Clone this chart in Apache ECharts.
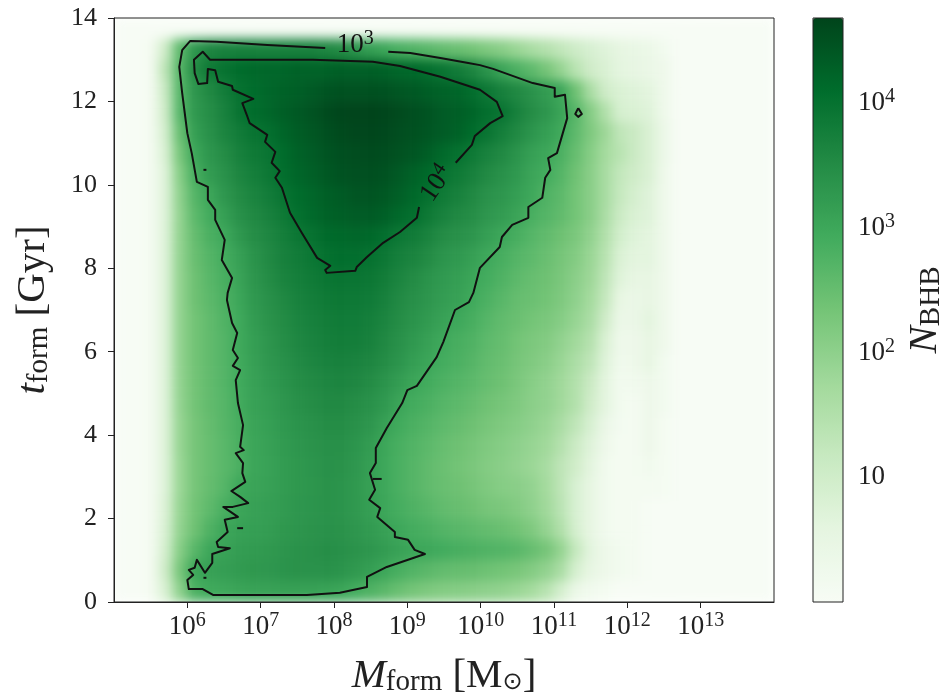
<!DOCTYPE html>
<html>
<head>
<meta charset="utf-8">
<style>html,body{margin:0;padding:0;background:#fff}#c{width:946px;height:698px}</style>
<script src="https://cdn.jsdelivr.net/npm/echarts@6/dist/echarts.min.js"></script>
</head>
<body>
<div id="c"></div>
<script>
// log10(M_form) bin centres of the table columns
const massBins = [5.5,5.7,5.9,6.1,6.3,6.5,6.7,6.9,7.1,7.3,7.5,7.7,7.9,8.1,8.3,8.5,8.7,8.9,9.1,9.3,9.5,9.7,9.9,10.1,10.3,10.5,10.7,10.9,11.1,11.3,11.5,11.7,11.9,12.1,12.3,12.5,12.7,12.9];
// empty bins left and right of the table
const massBinsLow = [5.1,5.3];
const massBinsHigh = [13.1,13.3,13.5,13.7,13.9];
// t_form bin centres, top row first
const timeBins = [13.75,13.25,12.75,12.25,11.75,11.25,10.75,10.25,9.75,9.25,8.75,8.25,7.75,7.25,6.75,6.25,5.75,5.25,4.75,4.25,3.75,3.25,2.75,2.25,1.75,1.25,0.75,0.25];
// log10 N_BHB, one row per time bin
const logN = [
[0,0,0,0,0,0,0,0,0,0,0,0,0,0,0,0,0,0,0,0,0,0,0,0,0,0,0,0,0,0,0,0,0,0,0,0,0,0],
[.1,1.0,2.6,3.3,3.6,3.7,3.7,3.7,3.7,3.7,3.7,3.7,3.6,3.5,3.35,3.15,3.0,2.85,2.75,2.65,2.55,2.45,2.35,2.2,2.05,1.85,1.65,1.45,1.25,1.05,.85,.7,.55,.45,.35,.2,0,0],
[.1,1.3,2.7,3.5,3.85,4.0,4.1,4.15,4.2,4.2,4.25,4.25,4.25,4.3,4.3,4.3,4.25,4.2,4.15,4.05,3.95,3.8,3.6,3.35,3.05,2.8,2.6,2.3,1.9,1.4,1.0,.8,.6,.5,.4,.3,0,0],
[.1,1.1,2.7,3.3,3.55,3.8,4.0,4.1,4.2,4.25,4.3,4.38,4.45,4.5,4.5,4.5,4.48,4.43,4.38,4.3,4.25,4.2,4.05,3.9,3.7,3.55,3.4,3.2,3.0,2.4,1.6,1.0,.8,.7,.6,.3,0,0],
[.1,1.0,2.7,3.25,3.45,3.7,3.95,4.1,4.2,4.3,4.38,4.48,4.58,4.65,4.68,4.68,4.65,4.6,4.52,4.45,4.35,4.3,4.2,4.05,3.95,3.7,3.5,3.3,3.05,2.7,2.1,1.5,.9,.8,.7,.3,0,0],
[.1,.9,2.5,3.15,3.4,3.65,3.8,3.95,4.05,4.2,4.33,4.43,4.52,4.6,4.65,4.65,4.62,4.55,4.5,4.42,4.35,4.25,4.1,3.95,3.75,3.55,3.35,3.15,2.95,2.6,2.2,1.8,1.3,1.1,.8,.4,0,0],
[.1,.8,2.3,3.0,3.3,3.5,3.7,3.85,3.95,4.1,4.25,4.35,4.45,4.52,4.57,4.58,4.55,4.5,4.42,4.3,4.15,4.0,3.85,3.7,3.55,3.35,3.15,3.0,2.8,2.5,2.1,1.7,1.4,1.1,.8,.4,0,0],
[.1,.7,2.1,2.85,3.2,3.4,3.6,3.75,3.9,4.05,4.2,4.3,4.4,4.48,4.52,4.52,4.48,4.38,4.25,4.12,4.0,3.85,3.7,3.55,3.4,3.25,3.05,2.9,2.7,2.4,2.05,1.65,1.25,1.0,.8,.3,0,0],
[.1,.7,2.0,2.7,3.0,3.3,3.5,3.65,3.8,3.95,4.1,4.2,4.3,4.35,4.45,4.45,4.4,4.3,4.15,4.0,3.85,3.7,3.55,3.4,3.3,3.15,3.0,2.75,2.6,2.35,2.05,1.65,1.2,.9,.7,.3,0,0],
[.1,.7,1.95,2.6,2.9,3.15,3.4,3.55,3.7,3.85,4.02,4.15,4.25,4.3,4.35,4.35,4.28,4.15,4.03,3.85,3.7,3.55,3.45,3.3,3.2,3.05,2.85,2.7,2.55,2.35,2.05,1.6,1.1,.8,.7,.3,0,0],
[.1,.7,1.95,2.5,2.8,2.98,3.25,3.45,3.6,3.75,3.9,4.0,4.12,4.15,4.2,4.15,4.03,3.9,3.8,3.65,3.5,3.4,3.3,3.15,3.0,2.85,2.7,2.55,2.4,2.25,1.95,1.5,.95,.7,.6,.3,0,0],
[.1,.7,1.95,2.45,2.7,2.9,3.1,3.35,3.55,3.7,3.8,3.92,4.02,4.08,4.08,4.0,3.88,3.75,3.65,3.5,3.35,3.25,3.12,2.98,2.85,2.7,2.6,2.45,2.3,2.15,1.85,1.4,.8,.6,.6,.3,0,0],
[.1,.7,1.95,2.4,2.65,2.85,3.05,3.3,3.5,3.65,3.75,3.85,3.92,3.95,3.95,3.9,3.78,3.65,3.5,3.35,3.25,3.15,3.02,2.9,2.75,2.6,2.5,2.4,2.25,2.05,1.8,1.3,.7,.5,.5,.3,0,0],
[.1,.7,1.95,2.4,2.6,2.8,3.0,3.25,3.42,3.55,3.68,3.78,3.85,3.88,3.88,3.82,3.7,3.55,3.42,3.3,3.2,3.1,2.95,2.8,2.65,2.5,2.45,2.35,2.2,2.0,1.7,1.2,.5,.4,.5,.3,0,0],
[.1,.7,1.95,2.35,2.55,2.75,2.95,3.2,3.38,3.5,3.62,3.72,3.78,3.82,3.82,3.75,3.62,3.5,3.35,3.22,3.1,2.98,2.85,2.7,2.55,2.45,2.35,2.25,2.1,1.9,1.6,1.0,.4,.4,.6,.3,0,0],
[.1,.7,1.95,2.35,2.55,2.72,2.95,3.15,3.32,3.45,3.58,3.68,3.75,3.78,3.78,3.7,3.55,3.42,3.25,3.1,2.98,2.85,2.75,2.6,2.5,2.35,2.25,2.15,1.95,1.75,1.45,.8,.3,.3,.5,.3,0,0],
[.1,.7,1.95,2.35,2.55,2.72,2.92,3.12,3.3,3.4,3.52,3.62,3.68,3.7,3.68,3.6,3.48,3.35,3.15,3.02,2.9,2.8,2.68,2.55,2.45,2.3,2.2,2.05,1.85,1.6,1.3,.7,.25,.3,.5,.2,0,0],
[.1,.7,1.95,2.35,2.55,2.72,2.92,3.1,3.25,3.35,3.48,3.55,3.6,3.62,3.6,3.5,3.35,3.2,3.02,2.9,2.8,2.7,2.6,2.5,2.4,2.25,2.1,1.95,1.75,1.5,1.1,.6,.2,.2,.3,.2,0,0],
[.1,.7,1.95,2.35,2.55,2.7,2.9,3.1,3.2,3.3,3.42,3.5,3.55,3.55,3.5,3.4,3.25,3.05,2.9,2.8,2.7,2.6,2.5,2.4,2.3,2.2,2.05,1.95,1.75,1.5,1.0,.6,.2,.1,.3,.2,0,0],
[.1,.7,1.9,2.3,2.5,2.68,2.85,3.05,3.15,3.25,3.35,3.42,3.48,3.48,3.42,3.3,3.1,2.95,2.8,2.7,2.6,2.5,2.4,2.3,2.2,2.1,2.0,1.85,1.6,1.3,.85,.4,.15,.1,.3,.1,0,0],
[.1,.7,1.9,2.3,2.48,2.65,2.82,3.02,3.12,3.22,3.3,3.38,3.42,3.42,3.35,3.2,3.0,2.85,2.72,2.6,2.5,2.4,2.3,2.2,2.1,2.0,1.9,1.75,1.45,1.1,.7,.3,.1,.1,.3,.1,0,0],
[.1,.7,1.85,2.3,2.48,2.65,2.8,3.02,3.1,3.2,3.28,3.35,3.4,3.38,3.3,3.15,2.98,2.82,2.68,2.55,2.45,2.35,2.25,2.15,2.05,1.95,1.85,1.65,1.3,1.0,.6,.2,.1,.1,.2,.1,0,0],
[.1,.7,1.85,2.3,2.5,2.7,2.98,3.05,3.12,3.2,3.28,3.33,3.38,3.35,3.28,3.12,2.98,2.82,2.68,2.55,2.48,2.4,2.3,2.2,2.1,2.05,1.95,1.7,1.3,.85,.5,.2,.1,.1,.1,.1,0,0],
[.1,.75,1.9,2.35,2.58,2.85,3.02,3.1,3.18,3.22,3.3,3.35,3.38,3.35,3.28,3.15,3.0,2.88,2.75,2.65,2.55,2.48,2.4,2.3,2.25,2.15,2.0,1.75,1.35,.85,.5,.2,.1,.1,0,0,0,0],
[.1,.8,1.95,2.4,2.75,3.02,3.1,3.15,3.2,3.28,3.32,3.38,3.4,3.38,3.32,3.22,3.1,3.0,2.88,2.8,2.72,2.65,2.58,2.52,2.45,2.35,2.2,1.9,1.5,.9,.5,.2,.1,.1,0,0,0,0],
[.1,.9,2.1,2.65,3.0,3.1,3.18,3.22,3.28,3.32,3.38,3.42,3.45,3.42,3.38,3.3,3.2,3.1,3.02,2.98,2.92,2.85,2.8,2.75,2.72,2.65,2.5,2.3,1.9,1.2,.6,.3,.2,.1,0,0,0,0],
[.1,1.0,2.3,3.0,3.1,3.18,3.22,3.28,3.3,3.35,3.38,3.4,3.4,3.35,3.28,3.15,3.0,2.85,2.72,2.62,2.55,2.5,2.48,2.42,2.35,2.28,2.15,1.95,1.6,.9,.5,.3,.2,.1,0,0,0,0],
[.1,.8,2.0,2.8,2.95,3.0,3.05,3.08,3.1,3.12,3.12,3.12,3.08,3.02,2.9,2.75,2.62,2.45,2.3,2.2,2.15,2.1,2.05,2.0,1.95,1.85,1.7,1.4,.9,.4,.2,.1,0,0,0,0,0,0]
];
// contour N=10^4: [log10 M, t]
const contour1e4 = [[9.16,9.47],[9.13,9.21],[8.90,8.87],[8.67,8.61],[8.45,8.27],[8.31,8.03],[8.29,7.94],[7.90,7.89],[7.88,7.96],[7.95,8.06],[7.77,8.25],[7.56,8.85],[7.40,9.33],[7.29,9.93],[7.20,10.17],[7.26,10.33],[7.15,10.53],[7.20,10.79],[7.06,11.03],[7.09,11.20],[6.85,11.48],[6.81,11.68],[6.75,11.96],[6.90,12.06],[6.62,12.28],[6.61,12.37],[6.42,12.47],[6.38,12.75],[6.28,12.78],[6.27,12.44],[6.15,12.42],[6.10,12.68],[6.09,13.0],[6.21,13.19],[6.31,13.0],[7.71,13.0],[8.53,12.95],[8.90,12.85],[9.45,12.59],[9.99,12.28],[10.22,11.99],[10.30,11.65],[10.13,11.48],[9.92,11.17],[9.88,10.96],[9.66,10.53]];
// contour N=10^3
const contour1e3 = [[7.88,13.28],[7.09,13.35],[6.40,13.43],[6.04,13.45],[5.93,13.23],[5.89,12.83],[5.93,12.20],[6.00,11.24],[6.06,10.76],[6.13,10.07],[6.28,9.95],[6.28,9.64],[6.38,9.40],[6.38,9.16],[6.51,8.68],[6.47,8.20],[6.61,7.77],[6.55,7.41],[6.54,7.24],[6.61,6.69],[6.68,6.45],[6.62,6.04],[6.69,5.85],[6.62,5.66],[6.72,5.56],[6.66,5.32],[6.69,4.77],[6.76,4.24],[6.72,3.72],[6.77,3.64],[6.66,3.57],[6.76,3.33],[6.75,3.09],[6.79,2.88],[6.60,2.66],[6.72,2.52],[6.83,2.37],[6.62,2.28],[6.49,2.28],[6.69,2.04],[6.51,1.97],[6.55,1.68],[6.40,1.44],[6.42,1.32],[6.58,1.29],[6.34,1.15],[6.34,0.94],[6.24,0.70],[6.13,1.01],[6.10,0.82],[6.02,0.77],[6.08,0.65],[6.00,0.53],[6.02,0.31],[6.21,0.31],[6.35,0.17],[7.63,0.17],[8.08,0.22],[8.45,0.36],[8.45,0.60],[8.72,0.84],[9.24,1.15],[9.10,1.25],[9.01,1.49],[8.83,1.56],[8.83,1.68],[8.59,2.04],[8.63,2.25],[8.48,2.45],[8.56,2.69],[8.49,3.09],[8.57,3.33],[8.57,3.69],[8.72,4.17],[8.93,4.77],[9.00,5.08],[9.13,5.18],[9.40,5.87],[9.49,6.23],[9.65,7.00],[9.84,7.19],[9.90,7.41],[9.99,8.01],[10.26,8.51],[10.29,8.75],[10.43,9.04],[10.65,9.21],[10.65,9.47],[10.84,9.69],[10.88,10.17],[10.95,10.36],[10.92,10.64],[11.04,10.76],[11.12,11.24],[11.18,11.60],[11.15,12.16],[11.01,12.11],[11.01,12.32],[10.71,12.44],[10.17,12.78],[9.99,12.87],[9.83,12.92],[9.45,13.04],[9.04,13.16],[8.74,13.19]];
// small closed islands and specks of the contours
const contourIsland = [[11.33,11.84],[11.38,11.70],[11.33,11.63],[11.29,11.70],[11.33,11.84]];
const contourSpeck1 = [[8.53,2.95],[8.65,2.95]];
const contourSpeck2 = [[6.68,1.77],[6.76,1.77]];
const contourSpeck3 = [[6.22,10.36],[6.26,10.36]];
const contourSpeck4 = [[6.22,0.58],[6.26,0.58]];
// contour label anchors: [log10 M, t, exponent, rotation]
const contourLabels = [[8.29,13.36,3,0],[9.40,10.03,4,56]];
const xTicks = [6,7,8,9,10,11,12,13];
const colorTicks = [1,2,3,4];
const greens = ['#f7fcf5','#e5f5e0','#c7e9c0','#a1d99b','#74c476','#41ab5d','#238b45','#006d2c','#00441b'];

const FONT = '"Liberation Serif", serif';
const INK = '#222';
const allMass = massBinsLow.concat(massBins, massBinsHigh);
const heat = [];
timeBins.forEach((t, r) => {
  allMass.forEach((m, c) => {
    const i = c - massBinsLow.length;
    const v = (i >= 0 && i < massBins.length) ? logN[r][i] : 0;
    heat.push([String(m), String(t), v]);
  });
});
const expRich = {
  b: {fontFamily: FONT, fontSize: 27, color: INK},
  s: {fontFamily: FONT, fontSize: 20, color: INK, padding: [0, 0, 12, 0]}
};
const contourRich = {
  b: {fontFamily: FONT, fontSize: 27, color: '#111', textBorderWidth: 0},
  s: {fontFamily: FONT, fontSize: 20, color: '#111', textBorderWidth: 0, padding: [0, 0, 12, 0]}
};
const nameRich = {
  i: {fontFamily: FONT, fontStyle: 'italic', fontSize: 41, color: INK},
  sub: {fontFamily: FONT, fontSize: 29, color: INK, padding: [11, 0, 0, 0]},
  r: {fontFamily: FONT, fontSize: 41, color: INK},
  o: {fontFamily: '"DejaVu Sans"', fontSize: 24, color: INK, padding: [13, 0, 0, 0]}
};
const powerLabel = v => v === 1 ? '{b|10}' : '{b|10}{s|' + v + '}';
const contourLine = d => ({
  type: 'line', data: d, xAxisIndex: 1, yAxisIndex: 1, symbol: 'none', silent: true,
  lineStyle: {color: '#111', width: 2, join: 'round'}, z: 5
});
const chart = echarts.init(document.getElementById('c'), null, {renderer: 'canvas'});
chart.setOption({
  animation: false,
  backgroundColor: 'transparent',
  grid: [
    {left: 114, top: 18, width: 660, height: 584, outerBoundsMode: 'none', show: true, backgroundColor: 'transparent', borderColor: INK, borderWidth: 1, z: 4},
    {left: 813, top: 18, width: 30, height: 584, outerBoundsMode: 'none', show: true, backgroundColor: 'transparent', borderColor: INK, borderWidth: 1, z: 6}
  ],
  xAxis: [
    {type: 'category', gridIndex: 0, data: allMass.map(String), show: false, position: 'bottom'},
    {type: 'value', gridIndex: 0, position: 'bottom', min: 5, max: 14, interval: 1,
     axisLine: {show: true, onZero: false, lineStyle: {color: INK}},
     axisTick: {show: true, length: 6, customValues: xTicks, lineStyle: {color: INK}},
     axisLabel: {customValues: xTicks, margin: 9, formatter: powerLabel, rich: expRich, fontFamily: FONT, fontSize: 27, color: INK},
     splitLine: {show: false},
     name: '{i|M}{sub|form}{r| [M}{o|⊙}{r|]}', nameLocation: 'middle', nameGap: 54,
     nameTextStyle: {rich: nameRich}},
    {type: 'value', gridIndex: 1, min: 0, max: 1, show: false}
  ],
  yAxis: [
    {type: 'category', gridIndex: 0, data: timeBins.slice().reverse().map(String), show: false, position: 'left'},
    {type: 'value', gridIndex: 0, position: 'left', min: 0, max: 14, interval: 2,
     axisLine: {show: true, onZero: false, lineStyle: {color: INK}},
     axisTick: {show: true, length: 6, lineStyle: {color: INK}},
     axisLabel: {margin: 17, fontFamily: FONT, fontSize: 26, color: INK},
     splitLine: {show: false},
     name: '{i|t}{sub|form}{r| [Gyr]}', nameLocation: 'middle', nameGap: 60, nameRotate: 90,
     nameTextStyle: {rich: nameRich}},
    {type: 'value', gridIndex: 1, position: 'right', min: 0, max: 4.68, interval: 1,
     axisLine: {show: false},
     axisTick: {show: true, length: 6, customValues: colorTicks, lineStyle: {color: INK}},
     axisLabel: {customValues: colorTicks, margin: 15, formatter: powerLabel, rich: expRich, fontFamily: FONT, fontSize: 27, color: INK},
     splitLine: {show: false},
     name: '{i|N}{sub|BHB}', nameLocation: 'middle', nameGap: 62, nameRotate: 90,
     nameTextStyle: {rich: nameRich}}
  ],
  visualMap: {
    type: 'continuous', seriesIndex: 0, min: 0, max: 4.68, left: 813, top: 18,
    itemWidth: 30, itemHeight: 584, text: null, showLabel: false, calculable: false,
    hoverLink: false, indicatorSize: 0, inRange: {color: greens}, padding: 0, z: 2
  },
  series: [
    {type: 'heatmap', data: heat, xAxisIndex: 0, yAxisIndex: 0, zlevel: -1, progressive: 0, silent: true},
    contourLine(contour1e3),
    contourLine(contour1e4),
    contourLine(contourIsland),
    contourLine(contourSpeck1),
    contourLine(contourSpeck2),
    contourLine(contourSpeck3),
    contourLine(contourSpeck4),
    {type: 'scatter', xAxisIndex: 1, yAxisIndex: 1, symbolSize: 1, itemStyle: {opacity: 0}, silent: true, z: 6,
     data: contourLabels.map(d => ({
       value: d.slice(0, 2),
       label: {show: true, position: 'inside', rotate: d[3], opacity: 1, textBorderWidth: 0, formatter: '{b|10}{s|' + d[2] + '}', rich: contourRich}
     }))}
  ]
});
// the reference image is soft: soften the heat layer only and keep it inside the axes
const layer = chart.getDom().querySelectorAll('canvas')[0];
layer.style.filter = 'blur(5.5px)';
layer.style.clipPath = 'inset(18px 172px 96px 114px)';
</script>
</body>
</html>
